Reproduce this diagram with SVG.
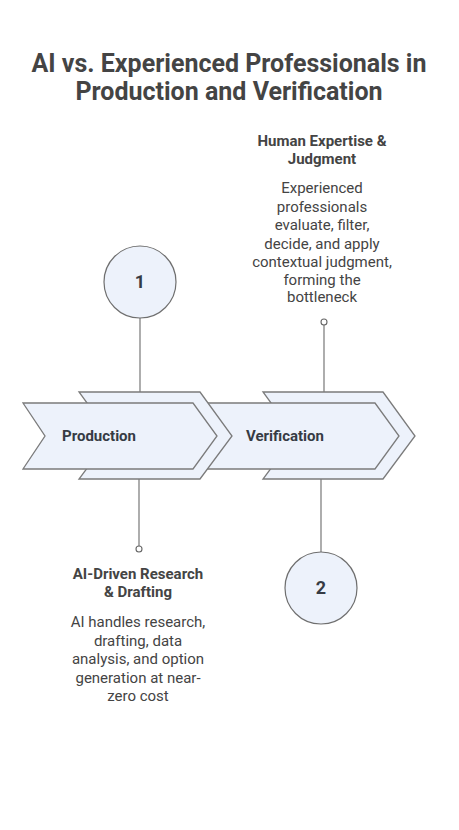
<svg xmlns="http://www.w3.org/2000/svg" width="459" height="830" viewBox="0 0 459 830">
<style>
.bg{fill:#ffffff}
.chev{fill:#edf2fb;stroke:#7b7b7b;stroke-width:1.3;stroke-linejoin:miter}
.num{fill:#edf2fb;stroke:#6f6f6f;stroke-width:1.2}
.conn{stroke:#777;stroke-width:1.2;fill:none}
.dot{fill:#fff;stroke:#666;stroke-width:1.1}
.title{font-family:Roboto,"Liberation Sans",sans-serif;font-weight:bold;font-size:25px;fill:#444;text-anchor:middle}
.lbl{font-family:Roboto,"Liberation Sans",sans-serif;font-weight:bold;font-size:15px;fill:#363b44}
.numt{font-family:Roboto,"Liberation Sans",sans-serif;font-weight:bold;font-size:18px;fill:#363b44;text-anchor:middle}
.hd{font-family:Roboto,"Liberation Sans",sans-serif;font-weight:bold;font-size:15px;fill:#444;text-anchor:middle}
.bd{font-family:Roboto,"Liberation Sans",sans-serif;font-size:15px;fill:#444;text-anchor:middle}
</style>
<rect class="bg" x="0" y="0" width="459" height="830"/>
<g id="title">
<text class="title" x="229" y="72">AI vs. Experienced Professionals in</text>
<text class="title" x="229" y="100">Production and Verification</text>
</g>
<g id="connectors">
<line class="conn" x1="140" y1="318" x2="140" y2="392"/>
<line class="conn" x1="139" y1="479" x2="139" y2="546"/>
<circle class="dot" cx="139" cy="549" r="3"/>
<line class="conn" x1="324" y1="325" x2="324" y2="392"/>
<circle class="dot" cx="324" cy="322" r="3"/>
<line class="conn" x1="321" y1="479" x2="321" y2="552"/>
</g>
<g id="verification">
<polygon class="chev" points="263,392 383,392 415,436 383,479 263,479 295,436"/>
<polygon class="chev" points="205,403 375,403 399,436 375,469 205,469 227,436"/>
<text class="lbl" x="246" y="441">Verification</text>
</g>
<g id="production">
<polygon class="chev" points="79,392 200,392 232,436 200,479 79,479 111,436"/>
<polygon class="chev" points="23,403 193,403 217,436 193,469 23,469 45,436"/>
<text class="lbl" x="62" y="441">Production</text>
</g>
<g id="step1">
<circle class="num" cx="140" cy="282" r="36"/>
<text class="numt" x="140" y="288">1</text>
</g>
<g id="step2">
<circle class="num" cx="321" cy="588" r="36"/>
<text class="numt" x="321" y="594">2</text>
</g>
<g id="human">
<text class="hd" x="322" y="146">Human Expertise &amp;</text>
<text class="hd" x="322" y="164">Judgment</text>
<text class="bd" x="322" y="193">Experienced</text>
<text class="bd" x="322" y="211.5">professionals</text>
<text class="bd" x="322" y="230">evaluate, filter,</text>
<text class="bd" x="322" y="248.5">decide, and apply</text>
<text class="bd" x="322" y="267">contextual judgment,</text>
<text class="bd" x="322" y="285">forming the</text>
<text class="bd" x="322" y="302">bottleneck</text>
</g>
<g id="ai">
<text class="hd" x="138" y="579">AI-Driven Research</text>
<text class="hd" x="138" y="597">&amp; Drafting</text>
<text class="bd" x="138" y="627">AI handles research,</text>
<text class="bd" x="138" y="645.5">drafting, data</text>
<text class="bd" x="138" y="664">analysis, and option</text>
<text class="bd" x="138" y="682.5">generation at near-</text>
<text class="bd" x="138" y="701">zero cost</text>
</g>
</svg>
